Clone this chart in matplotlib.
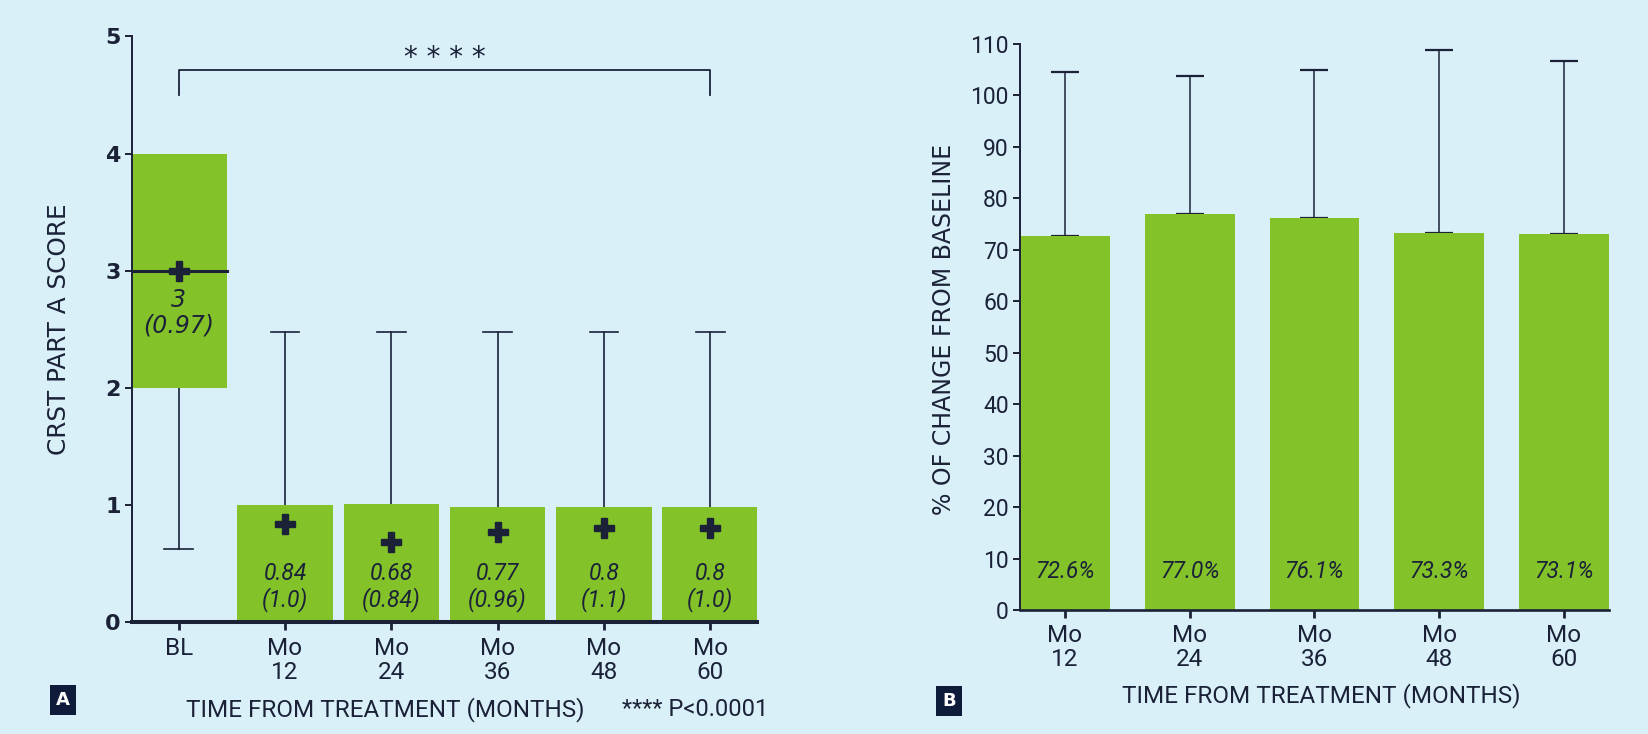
import matplotlib
matplotlib.use("Agg")
import matplotlib.pyplot as plt
from matplotlib import font_manager

# panel A: CRST part A score distribution by visit
a_labels = ["BL", "Mo\n12", "Mo\n24", "Mo\n36", "Mo\n48", "Mo\n60"]
a_q1 = [2.0, 0.0, 0.0, 0.0, 0.0, 0.0]
a_q3 = [4.0, 1.0, 1.01, 0.98, 0.98, 0.98]
a_med = [3.0, 0.0, 0.0, 0.0, 0.0, 0.0]
a_whislo = [0.62, 0.0, 0.0, 0.0, 0.0, 0.0]
a_whishi = [4.0, 2.48, 2.48, 2.48, 2.48, 2.48]
a_mean = [3, 0.84, 0.68, 0.77, 0.8, 0.8]
a_sd = ["0.97", "1.0", "0.84", "0.96", "1.1", "1.0"]

# panel B: % change from baseline
b_labels = ["Mo\n12", "Mo\n24", "Mo\n36", "Mo\n48", "Mo\n60"]
b_mean = [72.6, 77.0, 76.1, 73.3, 73.1]
b_sd = [32.0, 26.7, 28.8, 35.5, 33.6]

BG = "#d9f0f9"
GREEN = "#83c229"
NAVY = "#1b2238"


def pick_font(names):
    avail = {f.name for f in font_manager.fontManager.ttflist}
    for n in names:
        if n in avail:
            return n
    return "DejaVu Sans"


NARROW = pick_font(["Roboto", "Liberation Sans"])
WIDE = "DejaVu Sans"

fig = plt.figure(figsize=(16.48, 7.34), dpi=100, facecolor=BG)

# ---------------- panel A ----------------
axa = fig.add_axes([0.0801, 0.1526, 0.3792, 0.7977], facecolor=BG)
w = 0.9
cap = 0.135
for i in range(len(a_labels)):
    x0 = -0.44 if i == 0 else i - w / 2
    x1 = i + w / 2
    axa.bar((x0 + x1) / 2, a_q3[i] - a_q1[i], width=x1 - x0, bottom=a_q1[i],
            color=GREEN, zorder=2)
    if a_whishi[i] > a_q3[i]:
        axa.plot([i, i], [a_q3[i], a_whishi[i]], color=NAVY, lw=1.2, zorder=1)
        axa.plot([i - cap, i + cap], [a_whishi[i], a_whishi[i]], color=NAVY, lw=1.2, zorder=1)
    if a_whislo[i] < a_q1[i]:
        axa.plot([i, i], [a_q1[i], a_whislo[i]], color=NAVY, lw=1.2, zorder=1)
        axa.plot([i - cap, i + cap], [a_whislo[i], a_whislo[i]], color=NAVY, lw=1.2, zorder=1)
    if a_med[i] > 0:
        axa.plot([x0, x1], [a_med[i], a_med[i]], color=NAVY, lw=2.2, zorder=3)
    axa.plot(i, a_mean[i], marker="P", ms=14, color=NAVY, mec=NAVY, zorder=4)
    if i == 0:
        axa.text(i, 2.64, f"{a_mean[i]:g}\n({a_sd[i]})", ha="center", va="center",
                 fontsize=17, style="italic", family=WIDE, color=NAVY,
                 linespacing=1.1, zorder=5)
    else:
        axa.text(i, 0.30, f"{a_mean[i]:g}\n({a_sd[i]})", ha="center", va="center",
                 fontsize=16.5, style="italic", family=NARROW, color=NAVY,
                 linespacing=1.1, zorder=5)

# significance bracket
axa.plot([0, 0, 5, 5], [4.5, 4.71, 4.71, 4.5], color=NAVY, lw=1.3)
axa.text(2.5, 4.82, "* * * *", ha="center", va="center", fontsize=20,
         family=WIDE, color=NAVY)

axa.set_xlim(-0.44, 5.44)
axa.set_ylim(0, 5)
axa.set_yticks([0, 1, 2, 3, 4, 5])
axa.set_xticks(range(len(a_labels)))
axa.set_xticklabels(a_labels, family=NARROW, fontsize=17.5, color=NAVY, linespacing=1.05)
for t in axa.get_yticklabels():
    t.set_family(WIDE)
    t.set_fontsize(16)
    t.set_fontweight("semibold")
    t.set_color(NAVY)
for s in ["top", "right"]:
    axa.spines[s].set_visible(False)
axa.spines["left"].set_linewidth(1.4)
axa.spines["left"].set_color(NAVY)
axa.spines["bottom"].set_linewidth(2.9)
axa.spines["bottom"].set_color(NAVY)
axa.spines["bottom"].set_zorder(6)
axa.tick_params(axis="y", length=5, width=1.4, color=NAVY, pad=3)
axa.tick_params(axis="x", length=6, width=2, color=NAVY, pad=5)

fig.text(59 / 1648, 1 - 329 / 734, "CRST PART A SCORE", rotation=90, ha="center",
         va="center", fontsize=17.8, family=WIDE, color=NAVY)
fig.text(385 / 1648, 1 - 710 / 734, "TIME FROM TREATMENT (MONTHS)", ha="center",
         va="center", fontsize=17.5, family=NARROW, color=NAVY)
fig.text(622 / 1648, 1 - 710 / 734, "**** P<0.0001", ha="left", va="center",
         fontsize=17, family=NARROW, color=NAVY)
fig.text(63 / 1648, 1 - 700 / 734, "A", ha="center", va="center", fontsize=13,
         fontweight="bold", color="white",
         bbox=dict(boxstyle="square,pad=0.35", fc="#0f1b3a", ec="none"))

# ---------------- panel B ----------------
axb = fig.add_axes([0.6189, 0.1689, 0.3574, 0.7715], facecolor=BG)
xb = list(range(len(b_labels)))
axb.bar(xb, b_mean, width=0.72, color=GREEN, zorder=2,
        yerr=[[0] * len(b_sd), b_sd], capsize=10,
        error_kw=dict(ecolor=NAVY, elinewidth=1.1, capthick=1.6, zorder=1))
for i, v in enumerate(b_mean):
    axb.text(i, 7.4, f"{v:.1f}%", ha="center", va="center", fontsize=16.5,
             style="italic", family=NARROW, color=NAVY, zorder=5)

axb.set_xlim(-0.36, 4.36)
axb.set_ylim(0, 110)
axb.set_yticks(range(0, 111, 10))
axb.set_xticks(xb)
axb.set_xticklabels(b_labels, family=NARROW, fontsize=17.5, color=NAVY, linespacing=1.05)
for t in axb.get_yticklabels():
    t.set_family(NARROW)
    t.set_fontsize(16.5)
    t.set_color(NAVY)
for s in ["top", "right"]:
    axb.spines[s].set_visible(False)
axb.spines["left"].set_linewidth(1.4)
axb.spines["left"].set_color(NAVY)
axb.spines["bottom"].set_linewidth(1.9)
axb.spines["bottom"].set_color(NAVY)
axb.spines["bottom"].set_zorder(6)
axb.tick_params(axis="y", length=5, width=1.4, color=NAVY, pad=3)
axb.tick_params(axis="x", length=6, width=2, color=NAVY, pad=4)

fig.text(944 / 1648, 1 - 329 / 734, "% OF CHANGE FROM BASELINE", rotation=90,
         ha="center", va="center", fontsize=17, family=WIDE, color=NAVY)
fig.text(1321 / 1648, 1 - 696 / 734, "TIME FROM TREATMENT (MONTHS)", ha="center",
         va="center", fontsize=17.5, family=NARROW, color=NAVY)
fig.text(949 / 1648, 1 - 701 / 734, "B", ha="center", va="center", fontsize=13,
         fontweight="bold", color="white",
         bbox=dict(boxstyle="square,pad=0.35", fc="#0f1b3a", ec="none"))

fig.savefig("out.png", dpi=100, facecolor=BG)
